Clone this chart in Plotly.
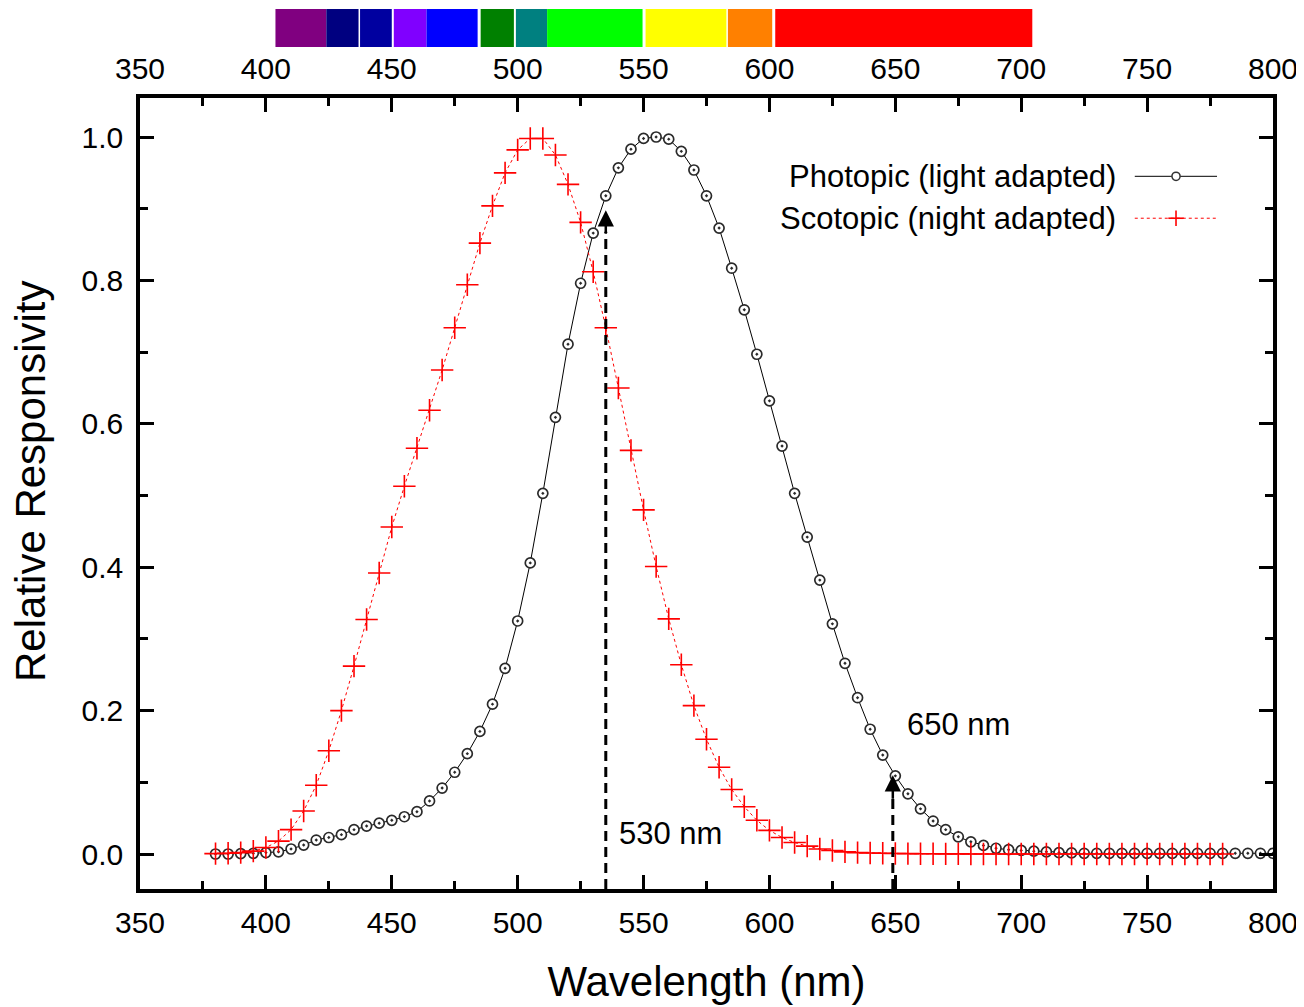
import plotly.graph_objects as go

FONT = "Liberation Sans, Arial, sans-serif"

# ---------------- data ----------------
wl_photopic = list(range(380, 801, 5))
photopic = [0.0, 0.0, 0.0005, 0.001, 0.002, 0.003, 0.007, 0.0125, 0.0195, 0.023,
            0.027, 0.034, 0.039, 0.043, 0.047, 0.052, 0.059, 0.074, 0.092, 0.114,
            0.140, 0.171, 0.209, 0.259, 0.325, 0.406, 0.503, 0.609, 0.711, 0.796,
            0.866, 0.918, 0.957, 0.983, 0.998, 1.000, 0.997, 0.980, 0.954, 0.918,
            0.873, 0.817, 0.759, 0.697, 0.632, 0.569, 0.503, 0.442, 0.382, 0.321,
            0.266, 0.218, 0.174, 0.138, 0.109, 0.084, 0.063, 0.046, 0.034, 0.024,
            0.017, 0.012, 0.008, 0.006, 0.005, 0.004, 0.003, 0.002, 0.0015, 0.001,
            0.001, 0.001, 0.001, 0.001, 0.001, 0.001, 0.001, 0.001, 0.001, 0.001,
            0.001, 0.001, 0.001, 0.001, 0.001]

wl_scotopic = list(range(380, 781, 5))
scotopic = [0.0006, 0.001, 0.002, 0.004, 0.009, 0.018, 0.034, 0.060, 0.096, 0.144,
            0.200, 0.262, 0.327, 0.392, 0.456, 0.513, 0.566, 0.619, 0.675, 0.734,
            0.794, 0.852, 0.904, 0.950, 0.982, 0.998, 0.998, 0.975, 0.934, 0.881,
            0.812, 0.734, 0.650, 0.563, 0.480, 0.401, 0.328, 0.264, 0.207, 0.160,
            0.121, 0.090, 0.066, 0.047, 0.033, 0.023, 0.016, 0.011, 0.007, 0.005,
            0.003, 0.002, 0.0015, 0.001, 0.0007, 0.0005, 0.0003, 0.0003, 0.0002, 0.0002,
            0.0001, 0.0001, 0.0001, 0.0, 0.0, 0.0, 0.0, 0.0, 0.0, 0.0,
            0.0, 0.0, 0.0, 0.0, 0.0, 0.0, 0.0, 0.0, 0.0, 0.0, 0.0]

# spectrum colour band on top (wavelength ranges, nm)
band_start = [403.8, 424.0, 437.4, 450.8, 463.8, 485.3, 499.3, 511.7, 550.8, 583.5, 602.3]
band_end = [424.0, 436.8, 450.0, 463.8, 484.1, 498.5, 511.7, 549.6, 582.9, 601.1, 704.4]
band_color = ["#800080", "#000080", "#0000A0", "#8000FF", "#0000FF", "#008000",
              "#008080", "#00FF00", "#FFFF00", "#FF8000", "#FF0000"]

x_ticks = [350, 400, 450, 500, 550, 600, 650, 700, 750, 800]
y_ticks = [0.0, 0.2, 0.4, 0.6, 0.8, 1.0]

arrow_530_x, arrow_530_tip = 535, 0.898
arrow_650_x, arrow_650_tip = 649, 0.11

XR = [350, 800]
YR = [-0.0488, 1.0544]

TICK_FS = 30
TITLE_FS = 42

# ---------------- figure ----------------
fig = go.Figure()

fig.add_trace(go.Scatter(
    x=wl_photopic, y=photopic, mode="lines+markers", name="Photopic (light adapted)",
    line=dict(color="black", width=1),
    marker=dict(symbol="circle-dot", size=10, color="white",
                line=dict(color="#2a2a2a", width=1.7)),
    showlegend=False, hoverinfo="skip"))

fig.add_trace(go.Scatter(
    x=wl_scotopic, y=scotopic, mode="lines+markers", name="Scotopic (night adapted)",
    line=dict(color="red", width=1, dash="dot"),
    marker=dict(symbol="cross-thin", size=16, color="red",
                line=dict(color="red", width=1.6)),
    showlegend=False, hoverinfo="skip"))

# invisible trace to activate top axis
fig.add_trace(go.Scatter(x=wl_photopic, y=photopic, xaxis="x2", mode="lines",
                         line=dict(width=0), opacity=0, showlegend=False,
                         hoverinfo="skip"))

shapes = []
# spectrum band
for s, e, c in zip(band_start, band_end, band_color):
    shapes.append(dict(type="rect", xref="x", yref="paper", x0=s, x1=e,
                       y0=1.0645, y1=1.1125, fillcolor=c, line=dict(width=0),
                       layer="above"))

# dashed arrow shafts
for xa, tip in [(arrow_530_x, arrow_530_tip), (arrow_650_x, arrow_650_tip)]:
    shapes.append(dict(type="line", xref="x", yref="y", x0=xa, x1=xa,
                       y0=YR[0], y1=tip - 0.03,
                       line=dict(color="black", width=3, dash="10px,6px")))

# custom legend samples (paper coordinates)
ly1, ly2 = 0.901, 0.848
lx0, lx1, lxm = 0.878, 0.9506, 0.9144
shapes.append(dict(type="line", xref="paper", yref="paper", x0=lx0, x1=lx1,
                   y0=ly1, y1=ly1, line=dict(color="black", width=1)))
shapes.append(dict(type="line", xref="paper", yref="paper", x0=lx0, x1=lx1,
                   y0=ly2, y1=ly2, line=dict(color="red", width=1, dash="dot")))
shapes.append(dict(type="circle", xref="paper", yref="paper",
                   x0=lxm - 0.0036, x1=lxm + 0.0036, y0=ly1 - 0.0052, y1=ly1 + 0.0052,
                   fillcolor="white", line=dict(color="#333333", width=1.5)))
shapes.append(dict(type="line", xref="paper", yref="paper", x0=lxm - 0.0068, x1=lxm + 0.0068,
                   y0=ly2, y1=ly2, line=dict(color="red", width=1.6)))
shapes.append(dict(type="line", xref="paper", yref="paper", x0=lxm, x1=lxm,
                   y0=ly2 - 0.0097, y1=ly2 + 0.0097, line=dict(color="red", width=1.6)))

annotations = []
# arrowheads
for xa, tip in [(arrow_530_x, arrow_530_tip), (arrow_650_x, arrow_650_tip)]:
    annotations.append(dict(x=xa, y=tip, ax=xa, ay=tip - 0.035, xref="x", yref="y",
                            axref="x", ayref="y", text="", showarrow=True,
                            arrowhead=2, arrowsize=1.3, arrowwidth=2.5,
                            arrowcolor="black"))
annotations.append(dict(x=653.8, y=0.18, xref="x", yref="y", text="650 nm",
                        showarrow=False, xanchor="left", yanchor="middle",
                        font=dict(family=FONT, size=TICK_FS + 1, color="black")))
annotations.append(dict(x=539.4, y=0.029, xref="x", yref="y", text="530 nm",
                        showarrow=False, xanchor="left", yanchor="middle",
                        font=dict(family=FONT, size=TICK_FS + 1, color="black")))
annotations.append(dict(x=0.863, y=ly1, xref="paper", yref="paper",
                        text="Photopic (light adapted)", showarrow=False,
                        xanchor="right", yanchor="middle",
                        font=dict(family=FONT, size=TICK_FS + 1, color="black")))
annotations.append(dict(x=0.863, y=ly2, xref="paper", yref="paper",
                        text="Scotopic (night adapted)", showarrow=False,
                        xanchor="right", yanchor="middle",
                        font=dict(family=FONT, size=TICK_FS + 1, color="black")))
# y-axis title (placed explicitly to match reference offset)
annotations.append(dict(x=-0.0971, y=0.5158, xref="paper", yref="paper",
                        text="Relative Responsivity", textangle=-90, showarrow=False,
                        xanchor="center", yanchor="middle",
                        font=dict(family=FONT, size=TITLE_FS, color="black")))

axis_common = dict(showgrid=False, zeroline=False, linecolor="black", linewidth=3.5,
                   ticks="inside", tickcolor="black", tickwidth=3, ticklen=14,
                   automargin=False,
                   tickfont=dict(family=FONT, size=TICK_FS, color="black"))

fig.update_layout(
    width=1296, height=999,
    margin=dict(l=132, r=31, t=90, b=118),
    paper_bgcolor="white", plot_bgcolor="white",
    shapes=shapes, annotations=annotations,
    xaxis=dict(range=XR, tickvals=x_ticks, mirror="ticks", showline=True,
               minor=dict(ticks="inside", dtick=25, tick0=350, ticklen=8,
                          tickwidth=3, tickcolor="black"),
               title=dict(text="Wavelength (nm)", standoff=30,
                          font=dict(family=FONT, size=TITLE_FS, color="black")),
               ticklabelstandoff=4, ticklabeloverflow="allow",
               **axis_common),
    xaxis2=dict(range=XR, tickvals=x_ticks, overlaying="x", side="top",
                showline=False, showgrid=False, zeroline=False, ticks="",
                ticklabelstandoff=12, automargin=False, ticklabeloverflow="allow",
                tickfont=dict(family=FONT, size=TICK_FS, color="black")),
    yaxis=dict(range=YR, tickvals=y_ticks, tickformat=".1f", mirror="ticks",
               showline=True,
               minor=dict(ticks="inside", dtick=0.1, tick0=0, ticklen=8,
                          tickwidth=3, tickcolor="black"),
               ticklabelstandoff=7,
               **axis_common),
)

fig.write_html("out.html")
